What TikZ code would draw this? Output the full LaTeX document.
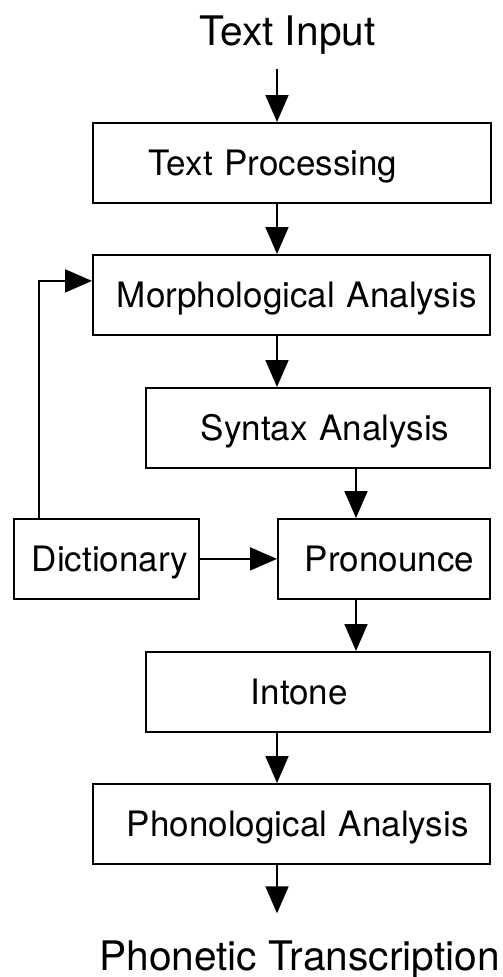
\documentclass[tikz,border=0pt]{standalone}
\usepackage{fontspec}
\setmainfont{TeX Gyre Heros}
\usetikzlibrary{arrows.meta}

\tikzset{
  stage/.style={draw, line width=1.8pt, anchor=north west, minimum height=80pt,
    inner sep=0pt, text width=#1, align=left, text height=25pt, text depth=0pt,
    font=\fontsize{35}{40}\selectfont},
  endtext/.style={inner sep=0pt, anchor=base, font=\fontsize{40.7}{46}\selectfont},
  flow/.style={line width=1.8pt, -{Triangle[length=27pt, width=23pt]}}
}

\begin{document}
\begin{tikzpicture}[x=1pt, y=-1pt]
  \useasboundingbox (0,0) rectangle (503,977);

  %% arrow columns
  \coordinate (spine) at (277,0);
  \coordinate (rspine) at (356,0);
  \coordinate (fb) at (39,0);

  %% input / output
  \node[endtext, outer ysep=15pt] (textin) at (287.5,45) {Text Input};
  \node[endtext, outer ysep=27pt] (phonetic) at (299.5,970) {Phonetic Transcription};

  %% stages
  \node[stage=398pt] (textproc) at (92,122) {\hspace*{56pt}Text Processing};
  \node[stage=397pt] (morph)    at (92,254) {\hspace*{24pt}Morphological Analysis};
  \node[stage=344pt] (syntax)   at (145,387) {\hspace*{55pt}Syntax Analysis};
  \node[stage=185pt] (dict)     at (13,518) {\hspace*{18pt}Dictionary};
  \node[stage=212pt] (pron)     at (277,518) {\hspace*{27pt}Pronounce};
  \node[stage=344pt] (intone)   at (145,651) {\hspace*{105pt}Intone};
  \node[stage=397pt] (phono)    at (92,783) {\hspace*{34pt}Phonological Analysis};

  %% connectors
  \draw[flow] (textin.south -| spine) -- (textproc.north -| spine);
  \draw[flow] (textproc.south -| spine) -- (morph.north -| spine);
  \draw[flow] (morph.south -| spine) -- (syntax.north -| spine);
  \draw[flow] (syntax.south -| rspine) -- (pron.north -| rspine);
  \draw[flow] (dict) -- (pron);
  \draw[flow] (dict.north -| fb) |- ([yshift=14pt]morph.west);
  \draw[flow] (pron.south -| rspine) -- (intone.north -| rspine);
  \draw[flow] (intone.south -| spine) -- (phono.north -| spine);
  \draw[flow] (phono.south -| spine) -- (phonetic.north -| spine);
\end{tikzpicture}
\end{document}
